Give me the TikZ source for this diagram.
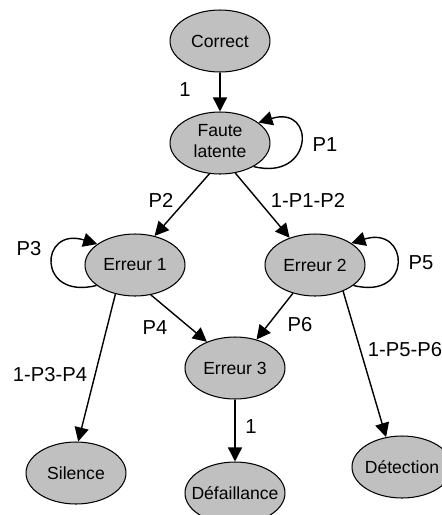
\documentclass[tikz,border=0pt]{standalone}
\usepackage{fontspec}
\setmainfont{Liberation Sans}
\usetikzlibrary{arrows.meta,shapes.geometric}
\definecolor{etatgris}{RGB}{192,192,192}
\newcommand{\etq}{\fontsize{11.5}{13}\selectfont}
\newcommand{\nul}[1]{\makebox[0pt]{#1}}

\begin{document}
\begin{tikzpicture}[x=0.02cm,y=0.02cm,
  etat/.style={ellipse,draw,line width=0.6pt,fill=etatgris,minimum width=2cm,
               minimum height=1.24cm,inner sep=0pt,font=\fontsize{10}{12}\selectfont},
  trans/.style={-{Triangle[length=8pt,width=8pt]},line width=0.8pt},
  lab/.style={inner sep=0pt,font=\etq}]
  \useasboundingbox (0,0) rectangle (441,-515);
  \node[etat] (co) at (220, -41) {\nul{Correct}};
  \node[etat] (fl) at (220,-143) {\nul{\begin{tabular}{@{}c@{}}Faute\\latente\end{tabular}}};
  \node[etat] (e1) at (135,-265) {\nul{Erreur 1}};
  \node[etat] (e2) at (315,-265) {\nul{Erreur 2}};
  \node[etat] (e3) at (235,-368) {\nul{Erreur 3}};
  \node[etat] (si) at ( 76,-473) {\nul{Silence}};
  \node[etat] (de) at (235,-493) {\nul{D\'efaillance}};
  \node[etat] (dt) at (402,-467) {\nul{D\'etection}};
  \draw[trans] (co) -- (fl);
  \draw[trans] (fl.-35) .. controls +( 60,-15) and +( 58,18) .. (fl.28);
  \draw[trans] (fl.251) -- (e1.56);
  \draw[trans] (fl.297) -- (e2.133);
  \draw[trans] (e1.208) .. controls +(-60,-15) and +(-58,18) .. (e1.151);
  \draw[trans] (e2.-28) .. controls +( 60,-15) and +( 58,18) .. (e2.31);
  \draw[trans] (e1.236) -- (si.86);
  \draw[trans] (e1.298) -- (e3.137);
  \draw[trans] (e2.232) -- (e3.53);
  \draw[trans] (e2.317) -- (dt.118);
  \draw[trans] (e3) -- (de);
  \node[lab] (u1) at (185, -90) {1};
  \node[lab] (p1) at (325,-145) {P1};
  \node[lab] (p2) at (161,-200) {P2};
  \node[lab] (q2) at (308,-200) {1-P1-P2};
  \node[lab] (p3) at ( 29,-249) {P3};
  \node[lab] (p5) at (421,-263) {P5};
  \node[lab] (p4) at (155,-328) {P4};
  \node[lab] (p6) at (300,-325) {P6};
  \node[lab] (q4) at ( 50,-375) {1-P3-P4};
  \node[lab] (q6) at (405,-350) {1-P5-P6};
  \node[lab] (u2) at (251,-427) {1};
\end{tikzpicture}
\end{document}
